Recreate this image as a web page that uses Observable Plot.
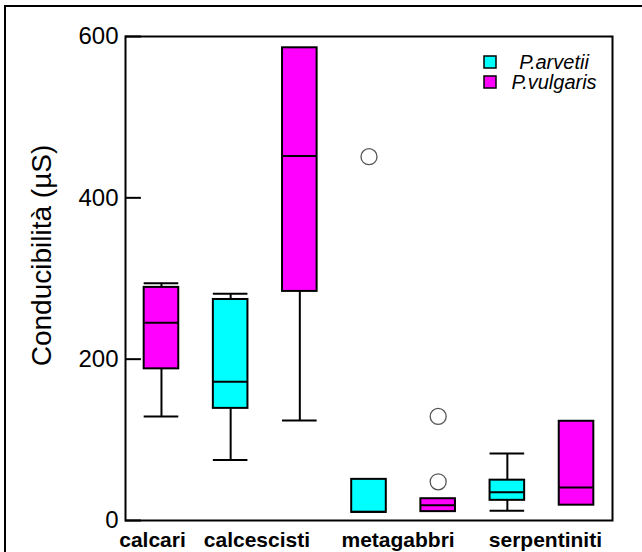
<!DOCTYPE html>
<html>
<head>
<meta charset="utf-8">
<script src="https://cdn.jsdelivr.net/npm/d3@7"></script>
<script src="https://cdn.jsdelivr.net/npm/@observablehq/plot@0.6"></script>
<style>
  body { margin: 0; background: #fff; }
  #fig { position: relative; width: 642px; height: 552px; overflow: hidden; background: #fff; }
  #fig svg { position: absolute; left: 0; top: 0; }
  #fig .edge-left { position: absolute; left: 4px; top: 5px; width: 2px; height: 547px; background: #000; }
  #fig .edge-top { position: absolute; left: 4px; top: 5px; width: 638px; height: 2px; background: #000; }
</style>
</head>
<body>
<div id="fig"></div>
<script>
// Conductivity by substrate, one box per species present on each substrate
const groups = ["calcari", "calcescisti", "calcescisti", "metagabbri", "metagabbri", "serpentiniti", "serpentiniti"];
const species = ["P.vulgaris", "P.arvetii", "P.vulgaris", "P.arvetii", "P.vulgaris", "P.arvetii", "P.vulgaris"];
const whiskerLow = [129, 75, 124, 10, 11, 12, 19];
const q1 = [188, 139, 284, 10, 11, 25, 19];
const median = [245, 172, 452, 11, 19, 35, 41];
const q3 = [289, 274, 586, 51, 27, 50, 123];
const whiskerHigh = [294, 281, 586, 51, 27, 83, 123];

// Outliers: box index (1-based) and value
const outlierBox = [4, 5, 5];
const outlierValue = [451, 129, 48];

const groupLabels = ["calcari", "calcescisti", "metagabbri", "serpentiniti"];
const groupLabelPos = [0.87, 2.38, 4.42, 6.55];
const yTicks = [0, 200, 400, 600];

const seriesNames = ["P.arvetii", "P.vulgaris"];
const seriesColors = ["#00ffff", "#ff00ff"];

const yTitle = "Conducibilità (µS)";

const boxes = groups.map((g, i) => ({
  pos: i + 1, group: g, species: species[i],
  lo: whiskerLow[i], q1: q1[i], med: median[i], q3: q3[i], hi: whiskerHigh[i]
}));
const outliers = outlierBox.map((b, i) => ({pos: b, value: outlierValue[i]}));

const half = 0.25;
const xDomain = [0.48, 7.52];
const font = "'Liberation Sans', Arial, Helvetica, sans-serif";

const chart = Plot.plot({
  width: 642,
  height: 552,
  marginLeft: 125,
  marginRight: 30,
  marginTop: 36,
  marginBottom: 32,
  style: {fontFamily: font, color: "#000", background: "transparent", overflow: "visible"},
  x: {domain: xDomain, axis: null},
  y: {domain: [0, 600], axis: null},
  color: {domain: seriesNames, range: seriesColors},
  marks: [
    // whiskers
    Plot.ruleX(boxes.filter(d => d.hi > d.q3), {x: "pos", y1: "q3", y2: "hi", stroke: "#000", strokeWidth: 2}),
    Plot.ruleX(boxes.filter(d => d.lo < d.q1), {x: "pos", y1: "lo", y2: "q1", stroke: "#000", strokeWidth: 2}),
    Plot.ruleY(boxes.filter(d => d.hi > d.q3), {y: "hi", x1: d => d.pos - half, x2: d => d.pos + half, stroke: "#000", strokeWidth: 2}),
    Plot.ruleY(boxes.filter(d => d.lo < d.q1), {y: "lo", x1: d => d.pos - half, x2: d => d.pos + half, stroke: "#000", strokeWidth: 2}),
    // boxes
    Plot.rect(boxes, {x1: d => d.pos - half, x2: d => d.pos + half, y1: "q1", y2: "q3", fill: "species", stroke: "#000", strokeWidth: 2}),
    Plot.ruleY(boxes, {y: "med", x1: d => d.pos - half, x2: d => d.pos + half, stroke: "#000", strokeWidth: 2}),
    // outliers
    Plot.dot(outliers, {x: "pos", y: "value", r: 8, fill: "#fff", stroke: "#555", strokeWidth: 1.3}),
    // inward y ticks
    Plot.ruleY(yTicks, {x1: xDomain[0], x2: xDomain[0] + 0.23, stroke: "#000", strokeWidth: 2}),
    Plot.frame({stroke: "#000", strokeWidth: 2}),
    Plot.axisY(yTicks, {tickSize: 0, tickPadding: 7, fontSize: 24, label: null}),
    Plot.axisX(groupLabelPos, {tickSize: 0, tickPadding: 12, fontSize: 21, fontWeight: "bold",
      tickFormat: d => groupLabels[groupLabelPos.indexOf(d)], label: null}),
    Plot.text([yTitle], {frameAnchor: "left", textAnchor: "middle", lineAnchor: "middle",
      dx: -83, dy: -23, rotate: -90, fontSize: 28})
  ]
});

const fig = document.getElementById("fig");
fig.appendChild(chart);

// legend inside the plot area, top right
const svg = d3.select(chart);
const legend = svg.append("g").attr("font-family", font).attr("font-size", 20).attr("font-style", "italic");
seriesNames.forEach((name, i) => {
  const cy = 62 + i * 20;
  legend.append("rect").attr("x", 484).attr("y", cy - 6).attr("width", 12).attr("height", 12)
    .attr("fill", seriesColors[i]).attr("stroke", "#000").attr("stroke-width", 1.5);
  legend.append("text").attr("x", 554).attr("y", cy).attr("dy", "0.35em")
    .attr("text-anchor", "middle").text(name);
});

// page edges
const edgeL = document.createElement("div"); edgeL.className = "edge-left"; fig.appendChild(edgeL);
const edgeT = document.createElement("div"); edgeT.className = "edge-top"; fig.appendChild(edgeT);
</script>
</body>
</html>
